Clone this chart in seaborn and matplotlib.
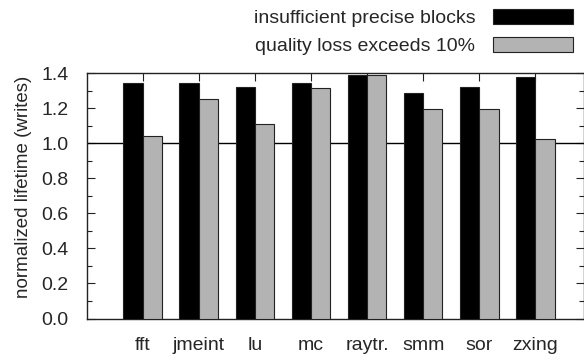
import matplotlib
matplotlib.use("Agg")
import matplotlib.pyplot as plt
from matplotlib.patches import Patch
from matplotlib.ticker import MultipleLocator
import pandas as pd
import seaborn as sns

benchmarks = ["fft", "jmeint", "lu", "mc", "raytr.", "smm", "sor", "zxing"]
insufficient_precise = [1.345, 1.345, 1.32, 1.345, 1.39, 1.288, 1.32, 1.379]
quality_loss = [1.043, 1.25, 1.11, 1.315, 1.387, 1.197, 1.197, 1.023]
series_names = ["insufficient precise blocks", "quality loss exceeds 10%"]
y_ticks = [0.0, 0.2, 0.4, 0.6, 0.8, 1.0, 1.2, 1.4]

df = pd.DataFrame({
    "benchmark": benchmarks * 2,
    "lifetime": insufficient_precise + quality_loss,
    "series": [series_names[0]] * len(benchmarks) + [series_names[1]] * len(benchmarks),
})

sns.set_style("ticks")
plt.rcParams["font.family"] = ["Liberation Sans", "DejaVu Sans"]
FS = 14
plt.rcParams["font.size"] = FS

colors = ["#000000", "#b3b3b3"]

fig = plt.figure(figsize=(5.84, 3.62), dpi=100)
ax = fig.add_axes([86.7 / 584, 1 - 318.5 / 362, (583.5 - 86.7) / 584, (318.5 - 73) / 362])

sns.barplot(data=df, x="benchmark", y="lifetime", hue="series", palette=colors,
            width=0.69, edgecolor="#222222", linewidth=0.8, saturation=1,
            legend=False, ax=ax, zorder=3)

ax.axhline(1.0, color="black", linewidth=1.0, zorder=1)

ax.set_ylim(0, 1.4)
ax.set_xlim(-1.0, 7.86)
ax.set_yticks(y_ticks)
ax.set_yticklabels([f"{v:.1f}" for v in y_ticks])
ax.yaxis.set_minor_locator(MultipleLocator(0.1))
ax.set_xlabel("")
ax.set_ylabel("normalized lifetime (writes)", fontsize=13.5)
ax.yaxis.set_label_coords(-0.110, 0.536)

for side in ["top", "right", "left", "bottom"]:
    ax.spines[side].set_visible(True)
    ax.spines[side].set_linewidth(1.0)
    ax.spines[side].set_color("#222222")

ax.tick_params(axis="y", which="major", direction="in", length=6, width=0.8,
               left=True, right=True, pad=13, labelsize=FS, color="#222222")
ax.tick_params(axis="y", which="minor", direction="in", length=3.5, width=0.8,
               left=True, right=True, color="#222222")
ax.tick_params(axis="x", which="major", direction="in", length=6, width=0.8,
               bottom=True, top=True, pad=13.5, labelsize=FS, color="#222222")

handles = [Patch(facecolor=colors[0], edgecolor="#222222", linewidth=0.8),
           Patch(facecolor=colors[1], edgecolor="#222222", linewidth=0.8)]
fig.legend(handles, series_names, loc="upper right",
           bbox_to_anchor=(573 / 584, 1 - 9 / 362), frameon=False,
           markerfirst=False, handlelength=4.1, handleheight=0.8,
           handletextpad=0.93, labelspacing=0.5, borderaxespad=0, borderpad=0,
           fontsize=FS)

fig.savefig("out.png", dpi=100)
